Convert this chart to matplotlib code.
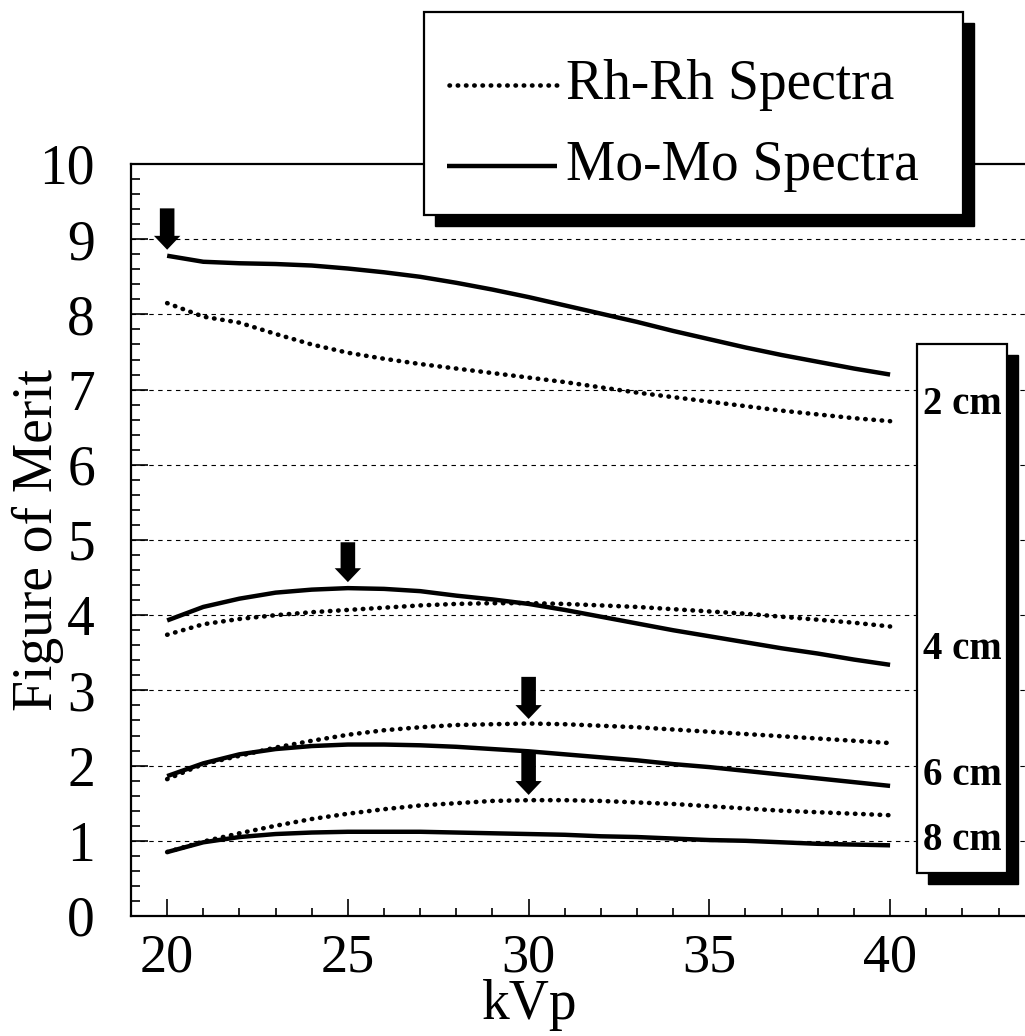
import matplotlib
matplotlib.use("Agg")
import matplotlib.pyplot as plt
import matplotlib.transforms as mtransforms
from matplotlib.patches import Rectangle
from matplotlib.lines import Line2D
from matplotlib.ticker import MultipleLocator

plt.rcParams['font.family'] = ['Liberation Serif', 'DejaVu Serif']

# Datos
kvp = [20, 21, 22, 23, 24, 25, 26, 27, 28, 29, 30, 31, 32, 33, 34, 35, 36, 37, 38, 39, 40]

mo_2cm = [8.78, 8.70, 8.68, 8.67, 8.65, 8.61, 8.56, 8.50, 8.42, 8.33, 8.23, 8.12, 8.01, 7.90, 7.78, 7.67, 7.56, 7.46, 7.37, 7.28, 7.20]
rh_2cm = [8.15, 7.97, 7.89, 7.74, 7.60, 7.49, 7.41, 7.34, 7.28, 7.22, 7.16, 7.10, 7.03, 6.96, 6.90, 6.84, 6.78, 6.72, 6.67, 6.62, 6.58]
mo_4cm = [3.93, 4.11, 4.22, 4.30, 4.34, 4.36, 4.35, 4.32, 4.26, 4.21, 4.15, 4.07, 3.98, 3.89, 3.80, 3.72, 3.64, 3.56, 3.49, 3.41, 3.34]
rh_4cm = [3.74, 3.88, 3.95, 4.00, 4.04, 4.07, 4.10, 4.13, 4.15, 4.16, 4.16, 4.15, 4.13, 4.11, 4.08, 4.05, 4.02, 3.98, 3.94, 3.90, 3.85]
mo_6cm = [1.86, 2.03, 2.15, 2.22, 2.26, 2.28, 2.28, 2.27, 2.25, 2.22, 2.19, 2.15, 2.11, 2.07, 2.02, 1.98, 1.93, 1.88, 1.83, 1.78, 1.73]
rh_6cm = [1.82, 2.02, 2.13, 2.24, 2.33, 2.41, 2.47, 2.51, 2.54, 2.55, 2.56, 2.55, 2.53, 2.51, 2.48, 2.45, 2.42, 2.39, 2.36, 2.33, 2.30]
mo_8cm = [0.85, 0.98, 1.05, 1.09, 1.11, 1.12, 1.12, 1.12, 1.11, 1.10, 1.09, 1.08, 1.06, 1.05, 1.03, 1.01, 1.00, 0.98, 0.96, 0.95, 0.94]
rh_8cm = [0.85, 0.99, 1.10, 1.20, 1.29, 1.36, 1.42, 1.47, 1.50, 1.53, 1.54, 1.54, 1.53, 1.51, 1.49, 1.46, 1.43, 1.40, 1.38, 1.36, 1.34]

series_names = ['Rh-Rh Spectra', 'Mo-Mo Spectra']
thickness_labels = ['2 cm', '4 cm', '6 cm', '8 cm']
thickness_label_y = [6.80, 3.55, 1.87, 1.01]

# flechas: posicion kVp, punta y cola
arrow_kvp = [20, 25, 30, 30]
arrow_tip = [8.86, 4.44, 2.62, 1.61]
arrow_tail = [9.41, 4.97, 3.18, 2.18]

W, H = 1025, 1036
fig = plt.figure(figsize=(W / 100, H / 100), dpi=100)
# el eje llega hasta el borde derecho de la figura
ax = fig.add_axes([131 / W, 120 / H, 895 / W, 752 / H])

# transformacion en pixeles (origen arriba a la izquierda)
pix = mtransforms.Affine2D().scale(1 / W, -1 / H).translate(0, 1) + fig.transFigure

dotted = dict(color='black', lw=3.3, linestyle=(0, (0.1, 1.7)), dash_capstyle='round')
solid = dict(color='black', lw=3.2, solid_capstyle='butt')

for rh, mo in [(rh_2cm, mo_2cm), (rh_4cm, mo_4cm), (rh_6cm, mo_6cm), (rh_8cm, mo_8cm)]:
    ax.plot(kvp, rh, zorder=3, **dotted)
    ax.plot(kvp, mo, zorder=3, **solid)

for x, tip, tail in zip(arrow_kvp, arrow_tip, arrow_tail):
    ax.annotate('', xy=(x, tip), xytext=(x, tail), zorder=4,
                arrowprops=dict(arrowstyle='simple,head_length=10,head_width=19,tail_width=10.5',
                                fc='black', ec='black', lw=0, mutation_scale=1,
                                shrinkA=0, shrinkB=0))

ax.set_xlim(19, 43.76)
ax.set_ylim(0, 10)
ax.xaxis.set_major_locator(MultipleLocator(5))
ax.xaxis.set_minor_locator(MultipleLocator(1))
ax.yaxis.set_major_locator(MultipleLocator(1))
ax.yaxis.set_minor_locator(MultipleLocator(0.2))
ax.tick_params(which='both', direction='in', top=False, right=False, width=1.2, colors='black')
ax.tick_params(axis='x', which='major', length=12, pad=12, labelsize=39)
ax.tick_params(axis='x', which='minor', length=6)
ax.tick_params(axis='y', which='major', length=12, pad=26, labelsize=40)
ax.tick_params(axis='y', which='minor', length=6.5)
ax.set_yticks(range(0, 11))
ax.spines['right'].set_visible(False)
for s in ['left', 'bottom', 'top']:
    ax.spines[s].set_linewidth(1.6)

for yv in range(1, 10):
    ax.axhline(yv, color='black', lw=0.8, linestyle=(0, (4, 4)), zorder=1)

ax.set_xlabel('kVp', fontsize=40)
ax.xaxis.label.set_va('center')
ax.xaxis.set_label_coords((530 - 131) / 895, (916 - 1005) / 752)
ax.set_ylabel('Figure of Merit', fontsize=40)
ax.yaxis.label.set_va('center')
ax.yaxis.set_label_coords((38 - 131) / 895, 0.5)

# Leyenda con sombra
ax.add_patch(Rectangle((435, 23), 539, 203, transform=pix, fc='black', ec='black',
                       clip_on=False, zorder=8))
ax.add_patch(Rectangle((424, 12), 539, 203, transform=pix, fc='white', ec='black', lw=1.6,
                       clip_on=False, zorder=9))
ax.add_line(Line2D([449, 557], [85, 85], transform=pix, clip_on=False, zorder=10, **dotted))
ax.add_line(Line2D([447, 557], [166, 166], transform=pix, clip_on=False, zorder=10, **solid))
ax.text(566, 85, series_names[0], transform=pix, fontsize=40, va='center', ha='left', zorder=11)
ax.text(566, 166, series_names[1], transform=pix, fontsize=40, va='center', ha='left', zorder=11)

# Caja de espesores
ax.add_patch(Rectangle((928, 355), 90, 529, transform=pix, fc='black', ec='black',
                       clip_on=False, zorder=8))
ax.add_patch(Rectangle((917, 344), 90, 529, transform=pix, fc='white', ec='black', lw=1.6,
                       clip_on=False, zorder=9))
box_x = ax.transData.inverted().transform(pix.transform((962, 0)))[0]
for lab, yv in zip(thickness_labels, thickness_label_y):
    ax.text(box_x, yv, lab, fontsize=28, fontweight='bold', ha='center', va='center', zorder=11)

fig.savefig('out.png', dpi=100)
